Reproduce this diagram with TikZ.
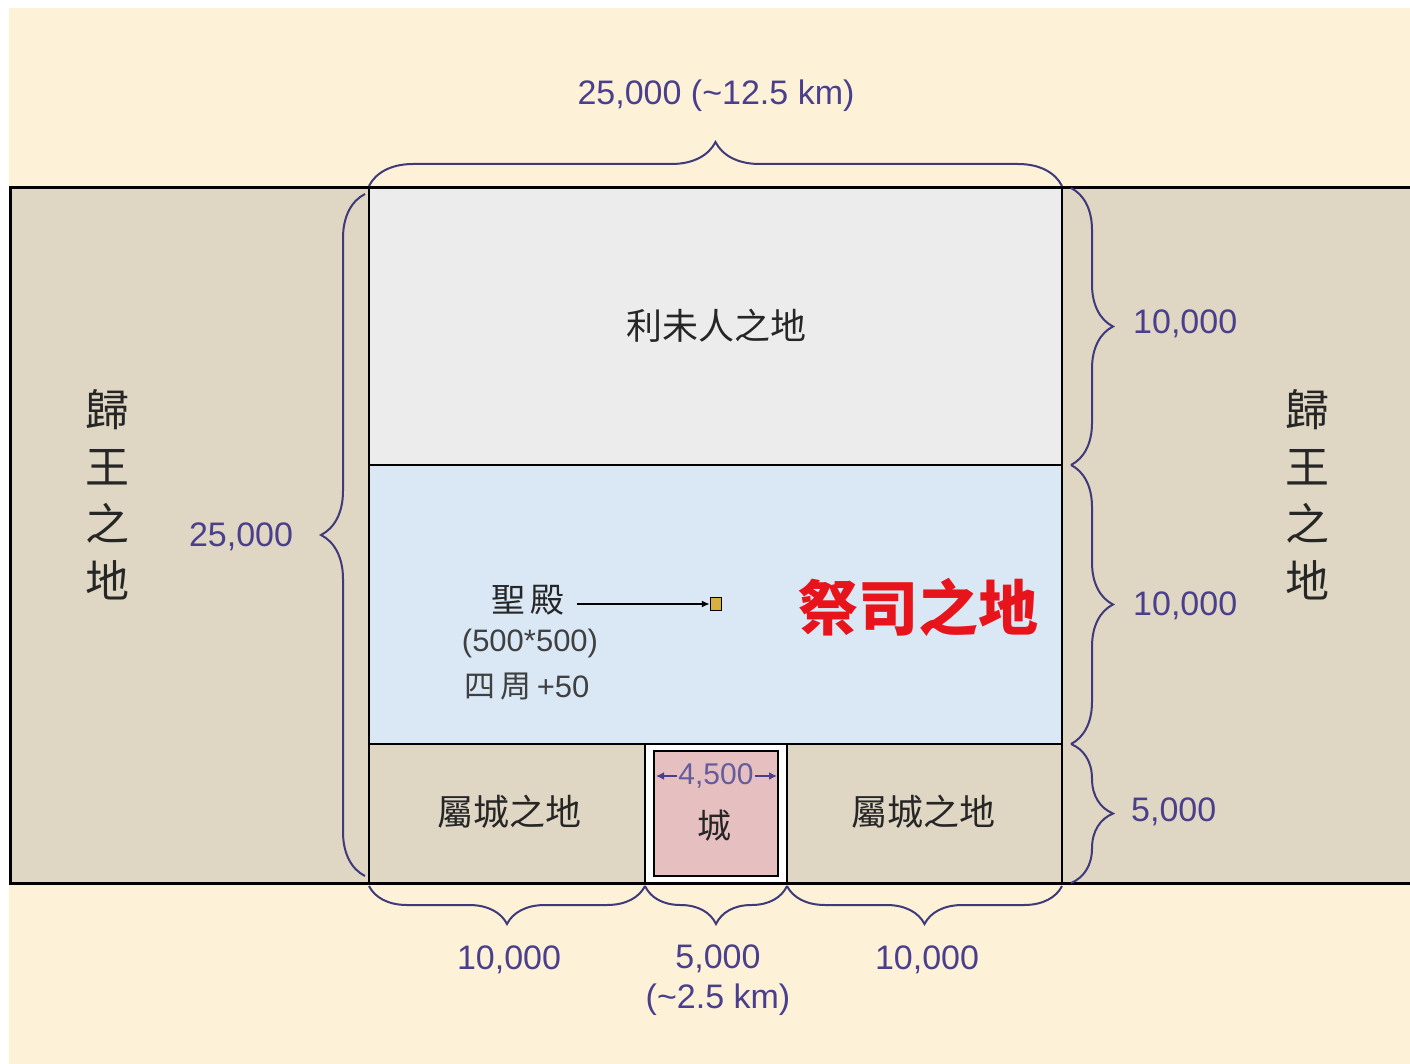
\documentclass[tikz,border=0pt]{standalone}
\usepackage{fontspec}
\setmainfont{Liberation Sans}
\newfontfamily\cjk{Noto Sans CJK TC}
\usetikzlibrary{decorations.pathreplacing,arrows.meta}
\definecolor{cream}{HTML}{FDF1D8}
\definecolor{landtan}{HTML}{DFD6C4}
\definecolor{levgray}{HTML}{ECECEC}
\definecolor{priestblue}{HTML}{DAE8F6}
\definecolor{citypink}{HTML}{E6C0C0}
\definecolor{dimcol}{HTML}{4A3F8C}
\definecolor{bracecol}{HTML}{3F3A7A}
\definecolor{templegold}{HTML}{D8B040}
\definecolor{redtxt}{HTML}{E8141C}
\begin{document}
\begin{tikzpicture}[x=1pt,y=-1pt,
  region/.style={draw=black,line width=2.6pt},
  dimlabel/.style={text=dimcol,font=\fontsize{34}{38}\selectfont,inner sep=0pt},
  cjklabel/.style={text=black!85,font=\cjk\fontsize{36}{40}\selectfont,inner sep=0pt},
  bracedim/.style={draw=bracecol,line width=2pt,decorate,decoration={brace,amplitude=#1}},
  bracedim/.default=40]
\useasboundingbox (0,0) rectangle (1410,1064);
\fill[white] (0,0) rectangle (1410,1064);
\fill[cream] (9,8) rectangle (1410,1064);
% outer band
\fill[landtan] (10,188) rectangle (1412,883);
\draw[line width=3pt] (1414,188) -- (10,188) -- (10,883) -- (1414,883);
% central regions
\filldraw[region,fill=levgray] (369,188) rectangle (1062,465);
\filldraw[region,fill=priestblue] (369,465) rectangle (1062,744);
\filldraw[region,fill=landtan] (369,744) rectangle (1062,883);
\filldraw[region,fill=white] (645,744) rectangle (787,883);
\filldraw[region,fill=citypink] (654,751) rectangle (778,876);
% labels in regions
\node[cjklabel] (levi) at (716,326) {利未人之地};
\node[text=redtxt,font=\cjk\bfseries\fontsize{60}{64}\selectfont,inner sep=0pt] (priest) at (918,607) {祭司之地};
\node[cjklabel,font=\cjk\fontsize{34}{38}\selectfont] (temple) at (528,600) {聖\,殿};
\node[draw=black,line width=1.4pt,fill=templegold,minimum width=11pt,minimum height=13pt,inner sep=0pt] (sq) at (716,604) {};
\draw[line width=1.6pt,-{Latex[length=8pt,width=7pt]}] (temple.east) ++(12,4) coordinate (tstart) (tstart) -- (sq.west);
\node[text=black!75,font=\fontsize{31}{35}\selectfont,inner sep=0pt] (tsize) at (530,643) {(500*500)};
\node[text=black!75,font=\fontsize{31}{35}\selectfont,inner sep=0pt] (tsur) at (527,687) {{\cjk 四\,周}\,+50};
\node[cjklabel] (subl) at (509,812) {屬城之地};
\node[cjklabel] (subr) at (923,812) {屬城之地};
\node[cjklabel,font=\cjk\fontsize{34}{38}\selectfont] (city) at (714,826) {城};
\node[text=dimcol!85,font=\fontsize{30}{34}\selectfont,inner sep=1pt] (cw) at (716,776) {4,500};
\draw[line width=1.6pt,dimcol,-{Latex[length=8pt,width=8pt]}] (cw.west) -- (656,776);
\draw[line width=1.6pt,dimcol,-{Latex[length=8pt,width=8pt]}] (cw.east) -- (777,776);
% side texts
\node[cjklabel,font=\cjk\fontsize{44}{57}\selectfont,align=center] (kl) at (107,495) {歸\\王\\之\\地};
\node[cjklabel,font=\cjk\fontsize{44}{57}\selectfont,align=center] (kr) at (1307,495) {歸\\王\\之\\地};
% braces
\coordinate (tb1) at (369,186); \coordinate (tb2) at (1062,186);
\draw[bracedim=44] (tb1) -- (tb2);
\node[dimlabel] (toplab) at (716,96) {25,000 (\textasciitilde12.5 km)};
\coordinate (lb1) at (365,876); \coordinate (lb2) at (365,194);
\draw[bracedim=44] (lb1) -- (lb2);
\node[dimlabel] (leftlab) at (241,537) {25,000};
\coordinate (r1) at (1071,188); \coordinate (r2) at (1071,465);
\coordinate (r3) at (1071,744); \coordinate (r4) at (1071,883);
\draw[bracedim=42] (r1) -- (r2);
\draw[bracedim=42] (r2) -- (r3);
\draw[bracedim=42] (r3) -- (r4);
\node[dimlabel,anchor=west] (rl1) at (1133,324) {10,000};
\node[dimlabel,anchor=west] (rl2) at (1133,606) {10,000};
\node[dimlabel,anchor=west] (rl3) at (1131,812) {5,000};
\coordinate (b1) at (369,886); \coordinate (b2) at (645,886);
\coordinate (b3) at (787,886); \coordinate (b4) at (1062,886);
\draw[bracedim=38] (b2) -- (b1);
\draw[bracedim=38] (b3) -- (b2);
\draw[bracedim=38] (b4) -- (b3);
\node[dimlabel] (bl1) at (509,960) {10,000};
\node[dimlabel,align=center,font=\fontsize{34}{40}\selectfont] (bl2) at (718,980) {5,000\\(\textasciitilde2.5 km)};
\node[dimlabel] (bl3) at (927,960) {10,000};
\end{tikzpicture}
\end{document}
